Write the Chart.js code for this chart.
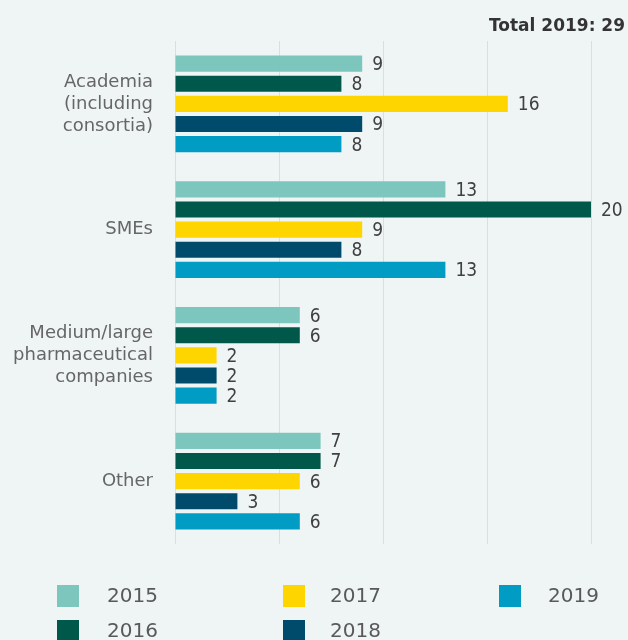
<!DOCTYPE html>
<html>
<head>
<meta charset="utf-8">
<script src="https://cdn.jsdelivr.net/npm/chart.js@4/dist/chart.umd.min.js"></script>
<style>
  html, body { margin: 0; padding: 0; background: #eff5f5; }
  #wrap { width: 628px; height: 640px; position: relative; }
</style>
</head>
<body>
<div id="wrap"><canvas id="grafico"></canvas></div>
<script>
// Datos del gráfico
const categorias = [
  ["Academia", "(including", "consortia)"],
  "SMEs",
  ["Medium/large", "pharmaceutical", "companies"],
  "Other"
];
const anios = ["2015", "2016", "2017", "2018", "2019"];
const valores2015 = [9, 13, 6, 7];
const valores2016 = [8, 20, 6, 7];
const valores2017 = [16, 9, 2, 6];
const valores2018 = [9, 8, 2, 3];
const valores2019 = [8, 13, 2, 6];
const colores = ["#7dc6bd", "#00584a", "#ffd500", "#004b6b", "#009cc4"];
const titulo = "Total 2019: 29";

const series = [valores2015, valores2016, valores2017, valores2018, valores2019];

// Etiquetas de valor al final de cada barra
const etiquetasValor = {
  id: "etiquetasValor",
  afterDatasetsDraw(chart) {
    const ctx = chart.ctx;
    ctx.save();
    ctx.font = "19px 'DejaVu Sans Condensed'";
    ctx.fillStyle = "#404040";
    ctx.textAlign = "left";
    ctx.textBaseline = "middle";
    chart.data.datasets.forEach((ds, i) => {
      chart.getDatasetMeta(i).data.forEach((bar, j) => {
        ctx.fillText(ds.data[j], bar.x + 10, bar.y + 1.5);
      });
    });
    ctx.restore();
  }
};

// Título y leyenda en columnas (orden por columna)
const tituloYLeyenda = {
  id: "tituloYLeyenda",
  afterDraw(chart) {
    const ctx = chart.ctx;
    ctx.save();
    ctx.font = "bold 17px 'DejaVu Sans'";
    ctx.fillStyle = "#333333";
    ctx.textAlign = "right";
    ctx.textBaseline = "alphabetic";
    ctx.fillText(titulo, 625, 31);

    const colCaja = [57, 283, 499];
    const colTexto = [107, 330, 548];
    const filaY = [585, 620];
    ctx.font = "20px 'DejaVu Sans'";
    ctx.textAlign = "left";
    ctx.textBaseline = "middle";
    chart.data.datasets.forEach((ds, i) => {
      const col = Math.floor(i / 2);
      const fila = i % 2;
      ctx.fillStyle = ds.backgroundColor;
      ctx.fillRect(colCaja[col], filaY[fila], 22, 22);
      ctx.fillStyle = "#595959";
      ctx.fillText(ds.label, colTexto[col], filaY[fila] + 12);
    });
    ctx.restore();
  }
};

new Chart(document.getElementById("grafico"), {
  type: "bar",
  data: {
    labels: categorias,
    datasets: anios.map((a, i) => ({
      label: a,
      data: series[i],
      backgroundColor: colores[i],
      categoryPercentage: 0.8,
      barPercentage: 0.8
    }))
  },
  options: {
    indexAxis: "y",
    responsive: true,
    maintainAspectRatio: false,
    animation: false,
    layout: { padding: { left: 0, right: 37, top: 41, bottom: 96 } },
    plugins: {
      legend: { display: false },
      title: { display: false },
      tooltip: { enabled: false }
    },
    scales: {
      x: {
        min: 0,
        max: 20,
        ticks: { display: false, stepSize: 5 },
        grid: { color: "#d9dede", lineWidth: 1, drawTicks: false },
        border: { display: false }
      },
      y: {
        afterFit(scale) { scale.width = 175; },
        ticks: {
          padding: 22,
          color: "#666666",
          font: { family: "'DejaVu Sans'", size: 18, lineHeight: 1.22 }
        },
        grid: { display: false, drawTicks: false },
        border: { display: false }
      }
    }
  },
  plugins: [etiquetasValor, tituloYLeyenda]
});
</script>
</body>
</html>
